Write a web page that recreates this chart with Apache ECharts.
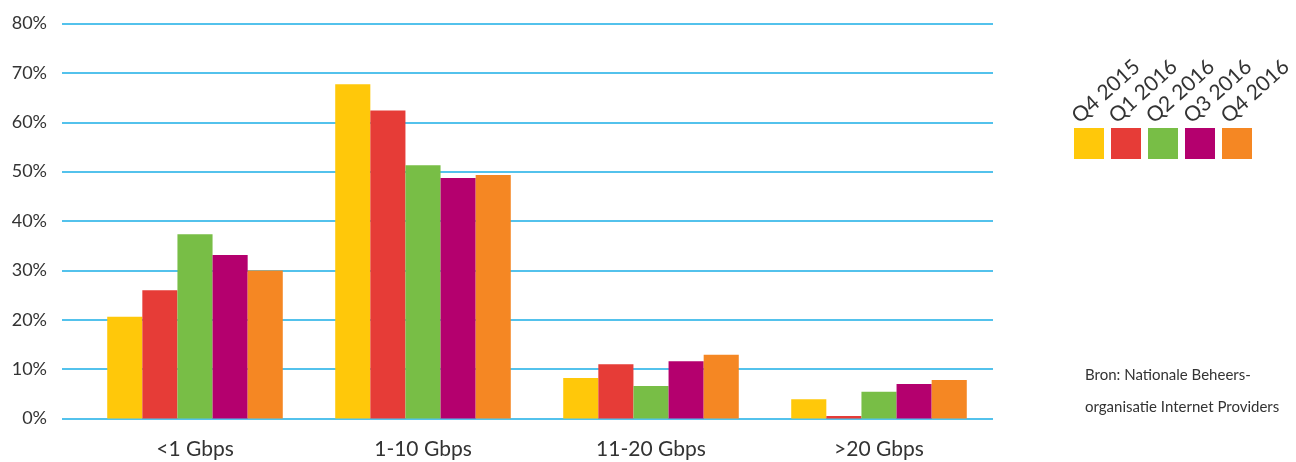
<!DOCTYPE html>
<html>
<head>
<meta charset="utf-8">
<script src="https://cdn.jsdelivr.net/npm/echarts@6/dist/echarts.min.js"></script>
<style>
  html, body { margin: 0; padding: 0; background: #fff; }
  #chart { width: 1296px; height: 462px; }
</style>
</head>
<body>
<div id="chart"></div>
<script>
// categorieën (snelheid)
const categories = ['<1 Gbps', '1-10 Gbps', '11-20 Gbps', '>20 Gbps']
const quarters = ['Q4 2015', 'Q1 2016', 'Q2 2016', 'Q3 2016', 'Q4 2016']
const colors = ['#ffc80a', '#e63c37', '#78be46', '#b4006e', '#f58723']

// percentages per kwartaal
const q4_2015 = [20.6, 67.7, 8.2, 3.9]
const q1_2016 = [26.0, 62.4, 11.0, 0.5]
const q2_2016 = [37.3, 51.3, 6.6, 5.4]
const q3_2016 = [33.1, 48.7, 11.6, 7.0]
const q4_2016 = [30.0, 49.3, 12.9, 7.8]
const seriesValues = [q4_2015, q1_2016, q2_2016, q3_2016, q4_2016]

const source = ['Bron: Nationale Beheers-', 'organisatie Internet Providers']

const font = 'Lato, "Open Sans", sans-serif'
const chart = echarts.init(document.getElementById('chart'))

// gedraaide legendateksten
const legendLeft = 1074
const legendStep = 37.3
const legendTexts = quarters.map((q, i) => ({
    type: 'text',
    x: legendLeft + 8 + i * legendStep,
    y: 127,
    rotation: 42 * Math.PI / 180,
    style: {
        text: q,
        font: '21px ' + font,
        fill: '#333',
        textVerticalAlign: 'bottom'
    }
}))

const sourceTexts = source.map((s, i) => ({
    type: 'text',
    left: 1085,
    top: 368 + i * 32,
    style: {text: s, font: '15px ' + font, fill: '#333'}
}))

chart.setOption({
    animation: false,
    color: colors,
    textStyle: {fontFamily: font},
    grid: [
        // balken
        {left: 81, right: 303, top: 23.5, bottom: 43.5, containLabel: false},
        // rasterlijnen + y-as, iets breder naar links
        {left: 62, right: 303, top: 23.5, bottom: 43.5, containLabel: false}
    ],
    legend: {
        left: legendLeft,
        top: 128,
        padding: 0,
        orient: 'horizontal',
        icon: 'rect',
        itemWidth: 30,
        itemHeight: 31,
        itemGap: 7,
        formatter: () => '',
        selectedMode: false,
        data: quarters
    },
    xAxis: [
        {
            type: 'category',
            gridIndex: 0,
            data: categories,
            axisLine: {show: false},
            axisTick: {show: false},
            axisLabel: {fontSize: 21, color: '#333', margin: 20}
        },
        {
            type: 'value',
            gridIndex: 1,
            show: false
        }
    ],
    yAxis: [
        {
            type: 'value',
            gridIndex: 0,
            min: 0,
            max: 80,
            interval: 10,
            show: false
        },
        {
            type: 'value',
            gridIndex: 1,
            min: 0,
            max: 80,
            interval: 10,
            axisLine: {show: false},
            axisTick: {show: false},
            axisLabel: {formatter: '{value}%', fontSize: 18, color: '#333', margin: 15},
            splitLine: {lineStyle: {color: '#1aaee6', width: 1.5}}
        }
    ],
    series: quarters.map((q, i) => ({
        name: q,
        type: 'bar',
        xAxisIndex: 0,
        yAxisIndex: 0,
        data: seriesValues[i],
        barGap: '0%',
        barCategoryGap: '23%',
        z: 3
    })),
    graphic: legendTexts.concat(sourceTexts)
})
</script>
</body>
</html>
